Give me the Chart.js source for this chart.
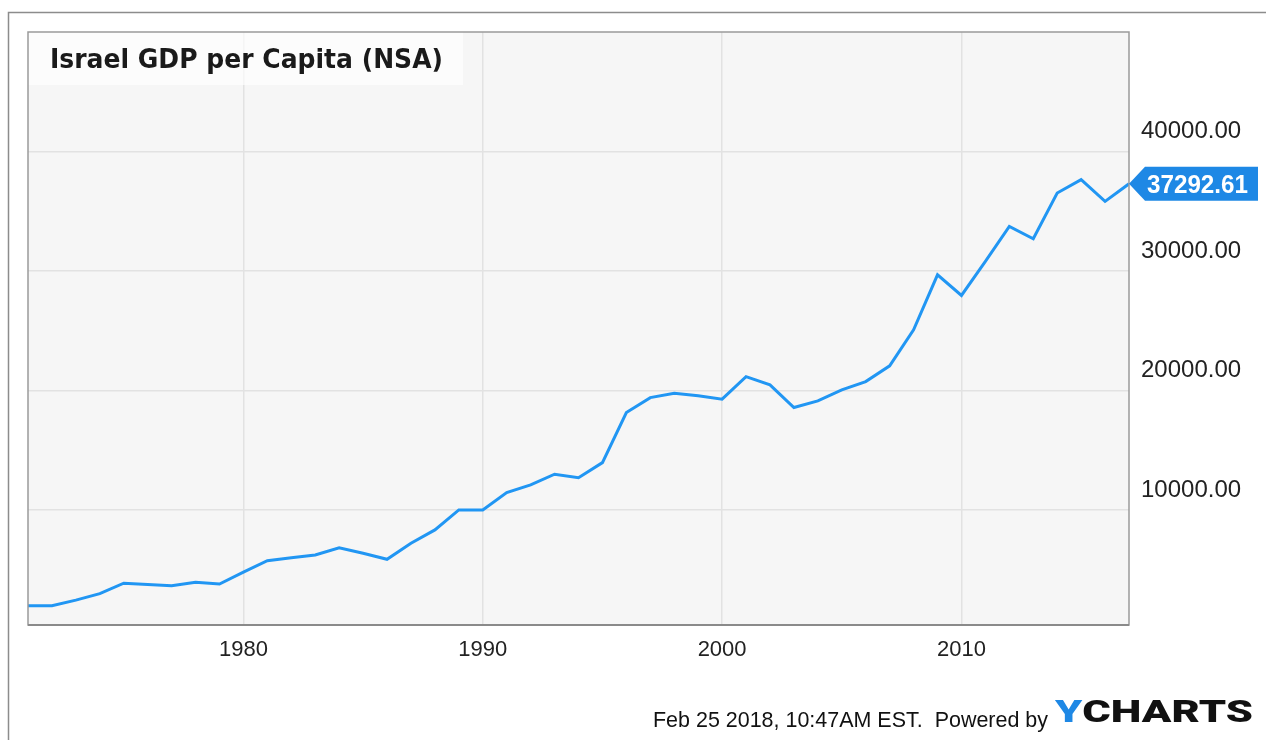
<!DOCTYPE html>
<html>
<head>
<meta charset="utf-8">
<script src="https://cdn.jsdelivr.net/npm/chart.js@4.4.1/dist/chart.umd.min.js"></script>
<style>
  html, body { margin: 0; padding: 0; background: #fff; }
  #wrap { width: 1266px; height: 740px; position: relative; }
</style>
</head>
<body>
<div id="wrap"><canvas id="gdpChart" width="1266" height="740"></canvas></div>
<script>
const years = [1971, 1972, 1973, 1974, 1975, 1976, 1977, 1978, 1979, 1980,
  1981, 1982, 1983, 1984, 1985, 1986, 1987, 1988, 1989, 1990,
  1991, 1992, 1993, 1994, 1995, 1996, 1997, 1998, 1999, 2000,
  2001, 2002, 2003, 2004, 2005, 2006, 2007, 2008, 2009, 2010,
  2011, 2012, 2013, 2014, 2015, 2016, 2017]
const gdpPerCapita = [1990, 1990, 2450, 2990, 3870, 3750, 3660, 3950, 3800, 4800,
  5750, 6000, 6230, 6840, 6370, 5870, 7210, 8330, 10000, 10000,
  11450, 12090, 12990, 12700, 13960, 18150, 19400, 19770, 19550, 19270,
  21160, 20470, 18570, 19130, 20050, 20745, 22060, 25075, 29680, 27950,
  30795, 33725, 32695, 36520, 37640, 35820, 37292.61]
const xTicks = [1980, 1990, 2000, 2010]
const yTicks = [10000, 20000, 30000, 40000]

const chartTitle = 'Israel GDP per Capita (NSA)'
const footerText = 'Feb 25 2018, 10:47AM EST.  Powered by'
const lastValue = gdpPerCapita[gdpPerCapita.length - 1]

const lineBlue = '#2196f3'
const tagBlue = '#1e88e5'

// draws text squeezed/stretched to a given width
function fitText(ctx, text, x, y, width) {
  const w = ctx.measureText(text).width
  ctx.save()
  ctx.translate(x, y)
  ctx.scale(width / w, 1)
  ctx.fillText(text, 0, 0)
  ctx.restore()
}

// background, borders, title box, value tag and footer
const decor = {
  id: 'decor',
  beforeDraw(chart) {
    const { ctx, chartArea: a } = chart
    ctx.save()
    ctx.fillStyle = '#f6f6f6'
    ctx.fillRect(a.left, a.top, a.right - a.left, a.bottom - a.top)
    ctx.restore()
  },
  afterDraw(chart) {
    const { ctx, chartArea: a } = chart
    ctx.save()
    ctx.textBaseline = 'alphabetic'
    ctx.textAlign = 'left'

    // title box
    ctx.fillStyle = 'rgba(255,255,255,0.65)'
    ctx.fillRect(a.left, a.top, 435, 53)
    ctx.fillStyle = '#1a1a1a'
    ctx.font = 'bold 27px "DejaVu Sans"'
    fitText(ctx, chartTitle, 50, 68, 393)

    // plot border
    ctx.strokeStyle = '#9a9a9a'
    ctx.lineWidth = 1.5
    ctx.strokeRect(a.left, a.top, a.right - a.left, a.bottom - a.top)
    ctx.strokeStyle = '#8a8a8a'
    ctx.lineWidth = 2
    ctx.beginPath()
    ctx.moveTo(a.left, a.bottom)
    ctx.lineTo(a.right, a.bottom)
    ctx.stroke()

    // outer frame
    ctx.strokeStyle = '#8c8c8c'
    ctx.lineWidth = 1.5
    ctx.beginPath()
    ctx.moveTo(8.5, 740)
    ctx.lineTo(8.5, 12.5)
    ctx.lineTo(1266, 12.5)
    ctx.stroke()

    // last value tag
    const y = chart.scales.y.getPixelForValue(lastValue)
    const x = a.right
    ctx.fillStyle = tagBlue
    ctx.beginPath()
    ctx.moveTo(x, y)
    ctx.lineTo(x + 16, y - 17)
    ctx.lineTo(1258, y - 17)
    ctx.lineTo(1258, y + 17)
    ctx.lineTo(x + 16, y + 17)
    ctx.closePath()
    ctx.fill()
    ctx.fillStyle = '#fff'
    ctx.font = 'bold 25px "Liberation Sans"'
    fitText(ctx, lastValue.toFixed(2), 1147, y + 9, 101)

    // footer
    ctx.fillStyle = '#111'
    ctx.font = '22px "Liberation Sans"'
    fitText(ctx, footerText, 653, 727, 395)
    ctx.font = '900 31px Roboto, "Liberation Sans"'
    const yw = ctx.measureText('Y').width
    const cw = ctx.measureText('CHARTS').width
    const k = 198 / (yw + cw)
    ctx.save()
    ctx.translate(1055, 722)
    ctx.scale(k, 1)
    ctx.fillStyle = tagBlue
    ctx.fillText('Y', 0, 0)
    ctx.fillStyle = '#111'
    ctx.fillText('CHARTS', yw, 0)
    ctx.restore()
    ctx.restore()
  }
}

new Chart(document.getElementById('gdpChart'), {
  type: 'line',
  data: {
    datasets: [{
      label: chartTitle,
      data: years.map((yr, i) => ({ x: yr, y: gdpPerCapita[i] })),
      borderColor: lineBlue,
      borderWidth: 3,
      pointRadius: 0,
      tension: 0,
      fill: false
    }]
  },
  options: {
    responsive: false,
    animation: false,
    layout: { padding: { left: 28, top: 32, right: 0, bottom: 0 } },
    plugins: {
      legend: { display: false },
      tooltip: { enabled: false }
    },
    scales: {
      x: {
        type: 'linear',
        min: 1971,
        max: 2017,
        afterBuildTicks: axis => { axis.ticks = xTicks.map(v => ({ value: v })) },
        afterFit: axis => { axis.height = 115 },
        grid: { color: '#e2e2e2', lineWidth: 1.5, drawTicks: false },
        border: { display: false },
        ticks: {
          padding: 12,
          color: '#222',
          font: { family: '"Liberation Sans Narrow", "Liberation Sans"', size: 22 },
          callback: v => String(v)
        }
      },
      y: {
        position: 'right',
        min: 370,
        max: 50000,
        afterBuildTicks: axis => { axis.ticks = yTicks.map(v => ({ value: v })) },
        afterFit: axis => { axis.width = 137 },
        grid: { color: '#e2e2e2', lineWidth: 1.5, drawTicks: false },
        border: { display: false },
        ticks: {
          padding: 12,
          labelOffset: -20,
          color: '#222',
          font: { family: '"Liberation Sans"', size: 24 },
          callback: v => v.toFixed(2)
        }
      }
    }
  },
  plugins: [decor]
})
</script>
</body>
</html>
